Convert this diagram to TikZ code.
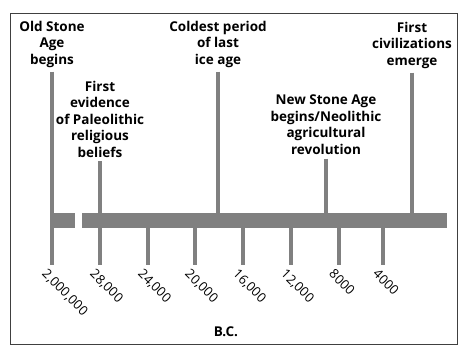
\documentclass[tikz,border=0pt]{standalone}
\usepackage{fontspec}
\setmainfont{Open Sans}
\begin{document}
\begin{tikzpicture}[x=1pt, y=-1pt,
    event/.style={font=\bfseries\fontsize{13.5}{16.4}\selectfont, align=center, anchor=north, inner sep=0pt},
    year/.style={font=\fontsize{13}{15}\selectfont, rotate=-45, anchor=north west, inner sep=0pt},
    stem/.style={draw=black!50, line width=4pt}]
  \useasboundingbox (0,0) rectangle (474,360);
  \draw[black!75, line width=1pt] (10,13) rectangle (457,344);

  \coordinate (low) at (0,265);
  \coordinate (bar) at (0,228);

  % the time bar, broken after the first stretch
  \fill[black!50] (50,213) rectangle (75,228);
  \fill[black!50] (82,213) rectangle (447,228);

  % events above the bar
  \node[event] (oldstone) at (52,21) {Old Stone\\Age\\begins};
  \node[event] (religion) at (100,81) {First\\evidence\\of Paleolithic\\religious\\beliefs};
  \node[event] (coldest) at (218,21) {Coldest period\\of last\\ice age};
  \node[event] (neolithic) at (326,95) {New Stone Age\\begins/Neolithic\\agricultural\\revolution};
  \node[event] (civil) at (412,22) {First\\civilizations\\emerge};

  \draw[stem] ([yshift=-4pt]oldstone.south) -- (oldstone.south |- low);
  \draw[stem] ([yshift=-4pt]religion.south) -- (religion.south |- low);
  \draw[stem] ([yshift=-4pt]coldest.south) -- (coldest.south |- bar);
  \draw[stem] ([yshift=-4pt]neolithic.south) -- (neolithic.south |- bar);
  \draw[stem] ([yshift=-4pt]civil.south) -- (civil.south |- bar);

  % ticks and years below the bar
  \foreach \x in {148,195,243,291,339,383}
    \draw[stem] (\x,228) -- (\x,265);
  \foreach \x/\yr in {52/{2,000,000}, 100/{28,000}, 148/{24,000}, 195/{20,000},
                      243/{16,000}, 291/{12,000}, 339/{8000}, 383/{4000}}
    \node[year] (y\x) at (\x-4,268) {\yr};

  \node[font=\bfseries\fontsize{13.5}{16}\selectfont] (bc) at (226,332) {B.C.};
\end{tikzpicture}
\end{document}
